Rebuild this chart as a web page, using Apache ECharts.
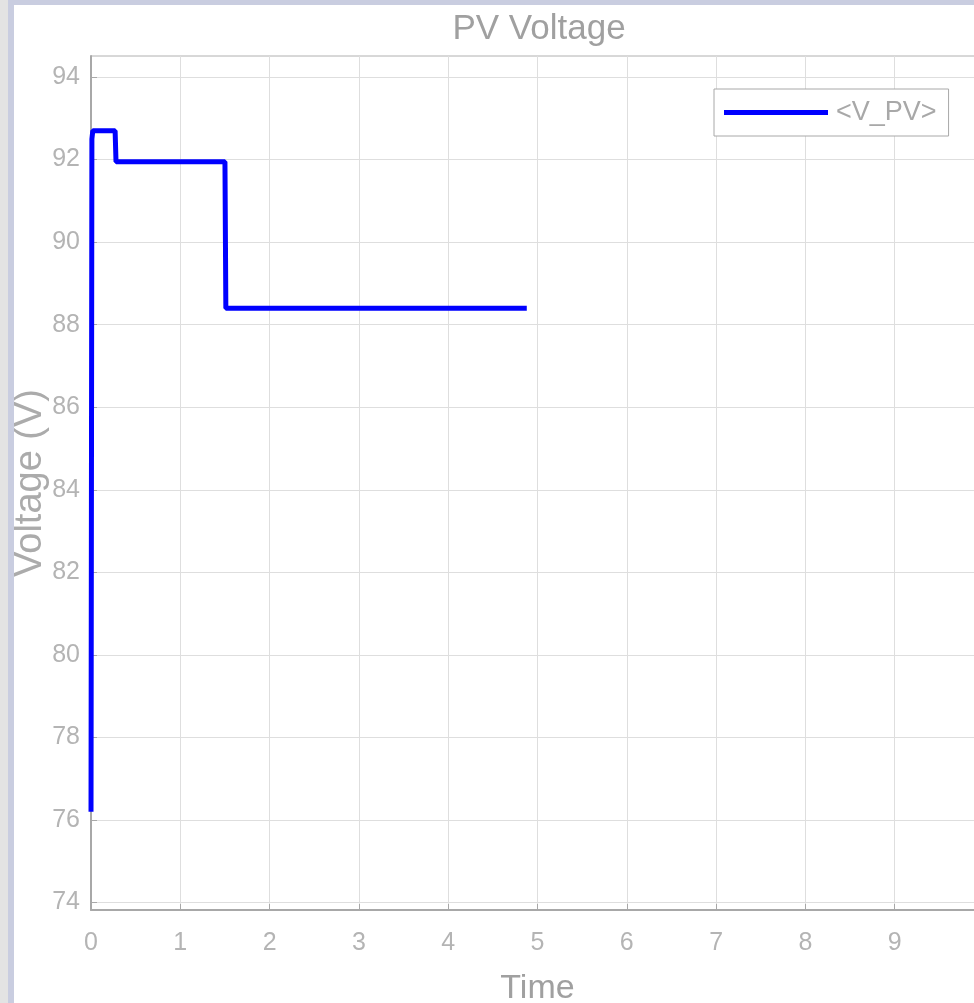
<!DOCTYPE html>
<html><head><meta charset="utf-8">
<script src="https://cdn.jsdelivr.net/npm/echarts@6/dist/echarts.min.js"></script>
<style>html,body{margin:0;padding:0;background:#fff}#c{width:974px;height:1003px}</style>
</head><body><div id="c"></div>
<script>
// Data
const timeValues    = [0, 0.01, 0.02, 0.27, 0.28, 1.50, 1.51, 4.88];
const voltageValues = [76.2, 92.5, 92.7, 92.7, 91.95, 91.95, 88.4, 88.4];
const yTicks = [74, 76, 78, 80, 82, 84, 86, 88, 90, 92, 94];
const xTicks = [0, 1, 2, 3, 4, 5, 6, 7, 8, 9];
const seriesName = '<V_PV>';

const points = timeValues.map((t, i) => [t, voltageValues[i]]);
const chart = echarts.init(document.getElementById('c'), null, {renderer: 'canvas'});
chart.setOption({
  backgroundColor: '#ffffff',
  animation: false,
  graphic: [
    {type: 'rect', shape: {x: 0, y: 0, width: 974, height: 5}, style: {fill: '#c9cde0'}, silent: true, z: 100},
    {type: 'rect', shape: {x: 0, y: 0, width: 8, height: 1003}, style: {fill: '#e3e3e3'}, silent: true, z: 100},
    {type: 'rect', shape: {x: 8, y: 0, width: 6, height: 1003}, style: {fill: '#c9cde0'}, silent: true, z: 100}
  ],
  title: {
    text: 'PV Voltage', left: 534, top: 7, textAlign: 'center',
    textStyle: {fontFamily: 'Liberation Sans', fontWeight: 'normal', fontSize: 35, color: '#a0a0a0'}
  },
  legend: {
    left: 714, top: 89, padding: [10, 12, 10, 10],
    borderColor: '#a8a8a8', borderWidth: 1, backgroundColor: '#fff',
    icon: 'rect', itemWidth: 104, itemHeight: 5,
    textStyle: {fontFamily: 'Liberation Sans', fontSize: 27, color: '#a8a8a8', padding: [0, 0, 0, 3]},
    data: [{name: seriesName, itemStyle: {color: '#0000ff'}}]
  },
  grid: {left: 91, top: 56, right: -10, bottom: 93, outerBoundsMode: 'none',
    show: true, borderColor: '#b0b0b0', borderWidth: 1},
  xAxis: {
    type: 'value', min: 0, max: 10, interval: 1,
    name: 'Time', nameLocation: 'middle', nameGap: 62, nameMoveOverlap: false,
    nameTextStyle: {fontFamily: 'Liberation Sans', fontSize: 34, color: '#a0a0a0'},
    axisLine: {show: true, lineStyle: {color: '#a8a8a8', width: 2}},
    axisTick: {show: true, inside: true, length: 6, lineStyle: {color: '#a8a8a8'}},
    axisLabel: {margin: 21, fontFamily: 'Liberation Sans', fontSize: 25, color: '#b4b4b4',
      formatter: v => xTicks.includes(v) ? String(v) : ''},
    splitLine: {show: true, lineStyle: {color: '#dedede', width: 1}}
  },
  yAxis: {
    type: 'value', min: 73.82, max: 94.51,
    name: 'Voltage (V)', nameLocation: 'middle', nameGap: 41, nameMoveOverlap: false,
    nameTextStyle: {fontFamily: 'Liberation Sans', fontSize: 38, color: '#ababab'},
    axisLine: {show: true, lineStyle: {color: '#a8a8a8', width: 2}},
    axisTick: {show: true, inside: true, length: 6, customValues: yTicks, lineStyle: {color: '#a8a8a8'}},
    axisLabel: {margin: 11, fontFamily: 'Liberation Sans', fontSize: 25, color: '#b4b4b4', customValues: yTicks},
    splitLine: {show: true, lineStyle: {color: '#dedede', width: 1}}
  },
  series: [{
    name: seriesName, type: 'line', data: points, showSymbol: false,
    lineStyle: {color: '#0000ff', width: 5}, itemStyle: {color: '#0000ff'}
  }]
});
</script></body></html>
